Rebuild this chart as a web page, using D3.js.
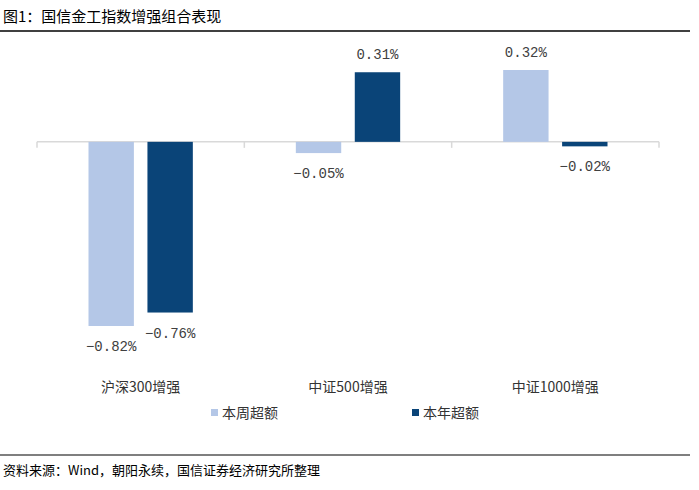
<!DOCTYPE html>
<html><head><meta charset="utf-8">
<script src="https://cdn.jsdelivr.net/npm/d3@7"></script>
<style>body{margin:0;background:#fff}svg{display:block}</style>
</head><body><div id="c"></div>
<script>
const categories = ["沪深300增强", "中证500增强", "中证1000增强"];
const seriesNames = ["本周超额", "本年超额"];
const weekly = [-0.82, -0.05, 0.32];
const yearly = [-0.76, 0.31, -0.02];
const colors = ["#B4C7E7", "#0A4478"];

const W = 699, H = 490;
const svg = d3.select("#c").append("svg").attr("width", W).attr("height", H);
const cjk = "'Noto Sans CJK SC', 'Noto Sans', sans-serif";
const mono = "'Liberation Mono', 'DejaVu Sans Mono', monospace";

// title
svg.append("text").attr("x", 3).attr("y", 22).attr("font-family", cjk).attr("font-size", 15)
  .attr("fill", "#000").text("图1：国信金工指数增强组合表现");
svg.append("line").attr("x1", 0).attr("x2", 690).attr("y1", 31).attr("y2", 31)
  .attr("stroke", "#000").attr("stroke-width", 1.5);

const x0 = d3.scaleBand().domain(categories).range([37, 659]).paddingInner(0).paddingOuter(0);
const x1 = d3.scaleBand().domain(seriesNames).range([51.5, x0.bandwidth() - 51.5]).paddingInner(0.23);
const y = d3.scaleLinear().domain([-0.82, 0.32]).range([326, 70]);

// axis
const g = svg.append("g");
g.append("line").attr("x1", 37).attr("x2", 659).attr("y1", y(0)).attr("y2", y(0))
  .attr("stroke", "#D9D9D9").attr("stroke-width", 1.5);
const tickXs = categories.map(c => x0(c)).concat([x0.range()[1]]);
g.selectAll(".tk").data(tickXs).enter().append("line")
  .attr("x1", d => d).attr("x2", d => d).attr("y1", y(0)).attr("y2", y(0) + 6)
  .attr("stroke", "#D9D9D9").attr("stroke-width", 1.5);

const data = categories.map((c, i) => ({c, vals: [weekly[i], yearly[i]]}));
const fmt = v => (v < 0 ? "−" : "") + Math.abs(v).toFixed(2) + "%";

data.forEach(d => {
  d.vals.forEach((v, j) => {
    const s = seriesNames[j];
    const bx = x0(d.c) + x1(s);
    const top = Math.min(y(v), y(0)), bot = Math.max(y(v), y(0));
    svg.append("rect").attr("x", bx).attr("y", top).attr("width", x1.bandwidth())
      .attr("height", bot - top).attr("fill", colors[j]);
    const ly = v >= 0 ? y(v) - 13 : y(v) + 25;
    svg.append("text").attr("x", bx + x1.bandwidth() / 2).attr("y", ly)
      .attr("text-anchor", "middle").attr("font-family", mono).attr("font-size", 14)
      .attr("fill", "#404040").text(fmt(v));
  });
  svg.append("text").attr("x", x0(d.c) + x0.bandwidth() / 2).attr("y", 392)
    .attr("text-anchor", "middle").attr("font-family", cjk).attr("font-size", 14)
    .attr("fill", "#333").text(d.c);
});

// legend
const legX = [211, 412];
seriesNames.forEach((s, j) => {
  svg.append("rect").attr("x", legX[j]).attr("y", 409).attr("width", 7).attr("height", 7).attr("fill", colors[j]);
  svg.append("text").attr("x", legX[j] + 11).attr("y", 418).attr("font-family", cjk)
    .attr("font-size", 14).attr("fill", "#333").text(s);
});

// footer
svg.append("line").attr("x1", 0).attr("x2", 690).attr("y1", 455).attr("y2", 455)
  .attr("stroke", "#000").attr("stroke-width", 1.2);
svg.append("text").attr("x", 3).attr("y", 475).attr("font-family", cjk).attr("font-size", 13)
  .attr("fill", "#000").text("资料来源：Wind，朝阳永续，国信证券经济研究所整理");
</script></body></html>
